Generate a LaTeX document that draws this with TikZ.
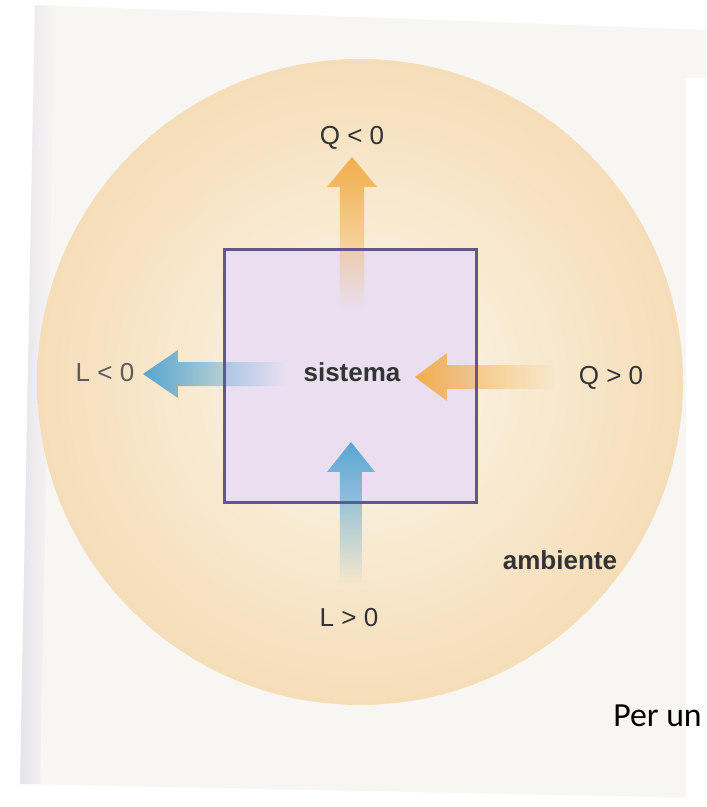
\documentclass[tikz,border=0pt]{standalone}
\usepackage{fontspec}
\setmainfont{Liberation Sans}
\newfontfamily\pagefont{Carlito}
\usetikzlibrary{fadings}

\definecolor{paper}{HTML}{F7F6F3}
\definecolor{pageedge}{HTML}{E6E4EC}
\definecolor{ambienteout}{HTML}{F5DDB8}
\definecolor{ambientein}{HTML}{FCF8EB}
\definecolor{sistemafill}{HTML}{E9DFF0}
\definecolor{sistemaline}{HTML}{63568E}
\definecolor{calore}{HTML}{F2AE4C}
\definecolor{lavoro}{HTML}{58A6D2}
\definecolor{labelgray}{HTML}{333333}

%   the shaft fades out towards the tail
\tikzfading[name=tailfade, left color=transparent!100, middle color=transparent!30, right color=transparent!0]

\tikzset{
    lbl/.style={text=labelgray, inner sep=0pt, font=\fontsize{18.5}{20}\selectfont},
    boldlbl/.style={lbl, font=\fontsize{18.5}{20}\selectfont\bfseries},
    heatarrow/.style={fill=calore, path fading=tailfade},
    workarrow/.style={fill=lavoro, path fading=tailfade},
}

\begin{document}
\begin{tikzpicture}[x=0.025cm, y=-0.025cm]
    \useasboundingbox (0,0) rectangle (706,807);
    %   scanned page
    \fill[white] (0,0) rectangle (706,807);
    \fill[paper] (35,5) -- (706,30) -- (706,798) -- (20,784) -- cycle;
    \shade[left color=pageedge, right color=paper] (20,784) -- (35,5) -- (55,6) -- (40,784) -- cycle;
    \fill[white] (686,78) rectangle (706,807);

    %   ambiente
    \coordinate (centro) at (360,382);
    \shade[inner color=ambientein, outer color=ambienteout] (centro) circle (323);

    %   sistema
    \node[fill=sistemafill, minimum width=6.275cm, minimum height=6.3cm, inner sep=0pt] (sistema) at (350.5,376) {};
    \node[boldlbl] (sistemalbl) at (352,372) {sistema};

    %   arrow tips
    \coordinate (qout) at (352,157);
    \coordinate (qin) at (415,377);
    \coordinate (lout) at (143,374);
    \coordinate (lin) at (351,442);

    \fill[heatarrow, fading angle=90] (qout) -- ++(25,30) -- ++(-13,0) -- ++(0,123) -- ++(-24,0) -- ++(0,-123) -- ++(-13,0) -- cycle;
    \fill[heatarrow, fading angle=180] (qin) -- ++(32,-24) -- ++(0,12) -- ++(108,0) -- ++(0,24) -- ++(-108,0) -- ++(0,12) -- cycle;
    \fill[workarrow, fading angle=180] (lout) -- ++(35,-24) -- ++(0,12) -- ++(107,0) -- ++(0,24) -- ++(-107,0) -- ++(0,12) -- cycle;
    \fill[workarrow, fading angle=90] (lin) -- ++(24,30) -- ++(-13,0) -- ++(0,113) -- ++(-22,0) -- ++(0,-113) -- ++(-13,0) -- cycle;

    \draw[sistemaline, line width=1.8pt] (sistema.north west) rectangle (sistema.south east);

    %   labels
    \node[lbl, above=5pt] (qneg) at (qout) {Q < 0};
    \node[lbl] (qpos) at (611,378) {Q > 0};
    \node[lbl, text=labelgray!80] (lneg) at (105,373) {L < 0};
    \node[lbl] (lpos) at (349,618) {L > 0};
    \node[boldlbl] (ambiente) at (560,560) {ambiente};

    \node[anchor=west, inner sep=0pt, font=\pagefont\fontsize{24}{28}\selectfont] (perun) at (613,716) {Per un};
\end{tikzpicture}
\end{document}
